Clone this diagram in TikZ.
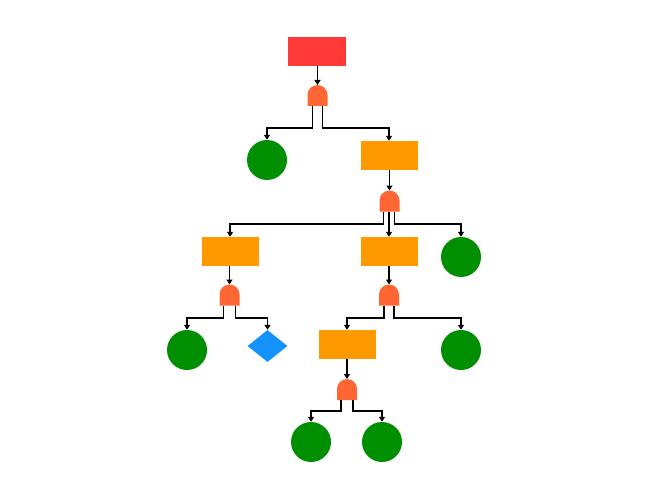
\documentclass[tikz,border=0pt]{standalone}
\usetikzlibrary{arrows.meta,shapes.geometric}
\definecolor{topred}{HTML}{FF3838}
\definecolor{gatecol}{HTML}{FF6633}
\definecolor{boxorange}{HTML}{FF9900}
\definecolor{leafgreen}{HTML}{008F00}
\definecolor{diamblue}{HTML}{1493FF}
\tikzset{
  topbox/.style={rectangle,fill=topred,minimum width=58pt,minimum height=29pt,inner sep=0pt},
  midbox/.style={rectangle,fill=boxorange,minimum width=57pt,minimum height=29pt,inner sep=0pt},
  leaf/.style={circle,fill=leafgreen,minimum size=40pt,inner sep=0pt},
  undev/.style={diamond,fill=diamblue,minimum width=40pt,minimum height=32pt,inner sep=0pt},
  andgate/.style={rectangle,minimum width=20pt,minimum height=21pt,inner sep=0pt,outer sep=0pt,
    path picture={\fill[gatecol] (path picture bounding box.south west) -- ++(0pt,11pt)
      arc[start angle=180,end angle=0,radius=10pt] -- (path picture bounding box.south east) -- cycle;}},
  conn/.style={line width=1.8pt,-{Triangle[length=5pt,width=6pt]}},
}
\begin{document}
\begin{tikzpicture}[x=1pt,y=-1pt]
\useasboundingbox (0,0) rectangle (650,500);
% nodes
\node[topbox] (top) at (317,51.5) {};
\node[andgate] (g1) at (317.5,95.5) {};
\node[leaf] (c1) at (267,160) {};
\node[midbox] (r2) at (389,155.5) {};
\node[andgate] (g2) at (389.5,201) {};
\node[midbox] (r3) at (230,251.5) {};
\node[midbox] (r4) at (389,251.5) {};
\node[leaf] (c2) at (461,257) {};
\node[andgate] (g3) at (229.5,295) {};
\node[andgate] (g4) at (389,295) {};
\node[leaf] (c3) at (187,350) {};
\node[undev] (d1) at (267.5,346) {};
\node[midbox] (r5) at (347,344.5) {};
\node[leaf] (c4) at (461,350) {};
\node[andgate] (g5) at (347,389.5) {};
\node[leaf] (c5) at (311,442) {};
\node[leaf] (c6) at (382,442) {};
% connectors
\draw[conn] (top.south -| g1.north) -- (g1.north);
\draw[conn] ([xshift=-5pt]g1.south) |- (c1.north |- 0,128) -- (c1.north);
\draw[conn] ([xshift=5pt]g1.south) |- (r2.north |- 0,128) -- (r2.north);
\draw[conn] (r2.south -| g2.north) -- (g2.north);
\draw[conn] ([xshift=-6pt]g2.south) |- (r3.north |- 0,224) -- (r3.north);
\draw[conn] (g2.south -| r4.north) -- (r4.north);
\draw[conn] ([xshift=5pt]g2.south) |- (c2.north |- 0,224) -- (c2.north);
\draw[conn] (r3.south -| g3.north) -- (g3.north);
\draw[conn] (r4.south -| g4.north) -- (g4.north);
\draw[conn] ([xshift=-6pt]g3.south) |- (c3.north |- 0,318) -- (c3.north);
\draw[conn] ([xshift=6pt]g3.south) |- (d1.north |- 0,318) -- (d1.north);
\draw[conn] ([xshift=-5pt]g4.south) |- (r5.north |- 0,318) -- (r5.north);
\draw[conn] ([xshift=5pt]g4.south) |- (c4.north |- 0,318) -- (c4.north);
\draw[conn] (r5.south -| g5.north) -- (g5.north);
\draw[conn] ([xshift=-6pt]g5.south) |- (c5.north |- 0,411) -- (c5.north);
\draw[conn] ([xshift=6pt]g5.south) |- (c6.north |- 0,411) -- (c6.north);
\end{tikzpicture}
\end{document}
